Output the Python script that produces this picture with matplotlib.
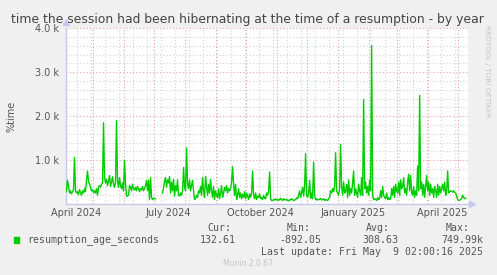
import numpy as np
import matplotlib
matplotlib.use("Agg")
from matplotlib import pyplot as plt
from matplotlib.patches import Rectangle

# daily values (seconds), last day = 2025-05-09
values = [
    260, 300, 540, 420, 250, 300, 230, 280, 330, 1060,
    300, 250, 280, 210, 330, 260, 200, 300, 250, 350,
    280, 550, 750, 520, 450, 380, 300, 330, 260, 300,
    250, 350, 200, 380, 420, 380, 450, 480, 1850, 600,
    480, 560, 420, 520, 650, 400, 500, 620, 450, 380,
    500, 1900, 520, 380, 600, 420, 350, 480, 300, 1000,
    450, 180, 180, 200, 420, 380, 300, 450, 350, 320,
    380, 300, 400, 350, 280, 350, 320, 400, 300, 350,
    420, 540, 300, 540, 100, 600, 150, 100, 130, 120,
    120, np.nan, np.nan, np.nan, np.nan, np.nan, np.nan, 250, 360, 520,
    600, 380, 550, 480, 620, 250, 500, 300, 560, 180,
    420, 300, 550, 200, 180, 250, 200, 300, 830, 400,
    300, 1280, 450, 350, 550, 300, 420, 540, 300, 100,
    120, 200, 150, 300, 250, 400, 200, 600, 300, 150,
    630, 400, 200, 450, 250, 560, 300, 150, 400, 100,
    300, 200, 150, 350, 120, 250, 420, 150, 250, 380,
    300, 420, 250, 350, 300, 350, 500, 850, 450, 200,
    450, 100, 200, 350, 150, 250, 120, 220, 150, 280,
    120, 250, 180, 100, 230, 150, 250, 750, 200, 120,
    250, 100, 180, 150, 230, 120, 150, 100, 200, 130,
    120, 250, 200, 300, 730, 120, 80, 80, 100, 90,
    120, 100, 80, 110, 90, 130, 100, 80, 120, 100,
    90, 110, 80, 70, 100, 90, 120, 100, 80, 90,
    100, 140, 120, 200, 300, 150, 250, 380, 180, 400,
    1145, 200, 150, 250, 540, 130, 250, 120, 955, 200,
    100, 120, 90, 100, 110, 130, 90, 100, 120, 80,
    100, 90, 80, 120, 150, 300, 250, 350, 280, 400,
    1168, 300, 250, 200, 350, 1357, 400, 200, 500, 250,
    300, 450, 150, 550, 200, 350, 250, 480, 750, 200,
    350, 250, 150, 450, 300, 200, 600, 200, 2380, 350,
    500, 250, 400, 200, 550, 300, 3607, 200, 100, 120,
    100, 80, 150, 100, 120, 300, 150, 400, 200, 150,
    120, 250, 100, 150, 100, 120, 350, 200, 400, 150,
    450, 300, 250, 500, 200, 550, 350, 400, 600, 250,
    350, 200, 500, 680, 300, 650, 250, 200, 400, 150,
    300, 200, 865, 300, 2470, 350, 500, 200, 450, 150,
    400, 650, 300, 500, 200, 450, 250, 350, 150, 400,
    300, 150, 450, 200, 400, 250, 350, 450, 300, 500,
    200, 300, 750, 250, 280, 300, 290, 270, 300, 260,
    250, 180, 100, 80, 90, 100, 130, 200, 150, 120,
    132.61,
]
last_day = np.datetime64('2025-05-09')
days = last_day - np.arange(len(values))[::-1].astype('timedelta64[D]')

month_lines = np.arange(np.datetime64('2024-05'), np.datetime64('2025-06'),
                        dtype='datetime64[M]').astype('datetime64[D]')
label_dates = np.array(['2024-04-15', '2024-07-16', '2024-10-16',
                        '2025-01-16', '2025-04-16'], dtype='datetime64[D]')
label_text = ['April 2024', 'July 2024', 'October 2024',
              'January 2025', 'April 2025']
yticks = [1000, 2000, 3000, 4000]

legend_name = 'resumption_age_seconds'
cur, vmin, avg, vmax = '132.61', '-892.05', '308.63', '749.99k'
last_update = 'Last update: Fri May  9 02:00:16 2025'

W, H = 497, 275
bg = '#F0F0F0'
txt = '#555555'
major = '#EBA3A3'
minor = '#D2D2D2'
axcol = '#C8C8EE'

fig = plt.figure(figsize=(W / 100, H / 100), dpi=100, facecolor=bg)
ax = fig.add_axes([66 / W, (H - 204) / H, 402 / W, (204 - 28.3) / H])
ax.set_facecolor('white')

x0 = np.datetime64('2024-04-04T12:00')
x1 = np.datetime64('2025-05-11T08:00')
ax.set_xlim(x0, x1)
ax.set_ylim(0, 4000)

dots = (0, (1, 2))
for v in range(200, 4001, 200):
    if v % 1000:
        ax.axhline(v, color=minor, lw=0.8, ls=dots, zorder=1)
minor_x = np.arange(np.datetime64('2024-04-15'), x1, np.timedelta64(14, 'D'))
for d in minor_x:
    ax.axvline(d, color=minor, lw=0.8, ls=dots, zorder=1)
for v in yticks:
    ax.axhline(v, color=major, lw=0.8, ls=dots, zorder=2)
for d in month_lines:
    ax.axvline(d, color=major, lw=0.8, ls=dots, zorder=2)

ax.plot(days, values, color='#00CC00', lw=1.0, zorder=3)

for s in ('top', 'right'):
    ax.spines[s].set_visible(False)
for s in ('left', 'bottom'):
    ax.spines[s].set_color(axcol)
    ax.spines[s].set_linewidth(1.0)
ax.plot(1.01, 0, '>', color=axcol, ms=4, transform=ax.transAxes, clip_on=False)
ax.plot(0, 1.035, '^', color=axcol, ms=4, transform=ax.transAxes, clip_on=False)

ax.set_yticks(yticks)
ax.set_yticklabels([f'{v / 1000:.1f} k' for v in yticks])
ax.set_xticks(label_dates)
ax.set_xticklabels(label_text)
ax.tick_params(axis='both', length=0, labelsize=7, colors=txt)
ax.tick_params(axis='y', pad=5)
ax.tick_params(axis='x', pad=3)
ax.set_ylabel('%time', fontsize=7, color=txt, labelpad=13)

fig.text(247 / W, 1 - 19 / H, 'time the session had been hibernating at the time of a resumption - by year',
         ha='center', va='center', fontsize=8.95, color='#444444')
fig.text(487 / W, 1 - 25 / H, 'RRDTOOL / TOBI OETIKER', rotation=270, ha='center', va='top',
         fontsize=5.2, color='#C4C4C4')

mono = dict(family='DejaVu Sans Mono', fontsize=7.1, color=txt)
fig.patches.append(Rectangle((14 / W, 1 - 242.7 / H), 5.3 / W, 5.3 / H,
                             transform=fig.transFigure, color='#00CC00'))
fig.text(27 / W, 1 - 240 / H, legend_name, ha='left', va='center', **mono)
for head, val, xh, xv in (('Cur:', cur, 231, 236), ('Min:', vmin, 311, 321),
                          ('Avg:', avg, 390, 398.5), ('Max:', vmax, 470, 483)):
    fig.text(xh / W, 1 - 228 / H, head, ha='right', va='center', **mono)
    fig.text(xv / W, 1 - 240 / H, val, ha='right', va='center', **mono)
fig.text(483 / W, 1 - 252 / H, last_update, ha='right', va='center', **mono)
fig.text(248 / W, 1 - 263.5 / H, 'Munin 2.0.67', ha='center', va='center',
         fontsize=5.5, color='#C4C4C4')

fig.savefig('out.png', dpi=100, facecolor=bg)
